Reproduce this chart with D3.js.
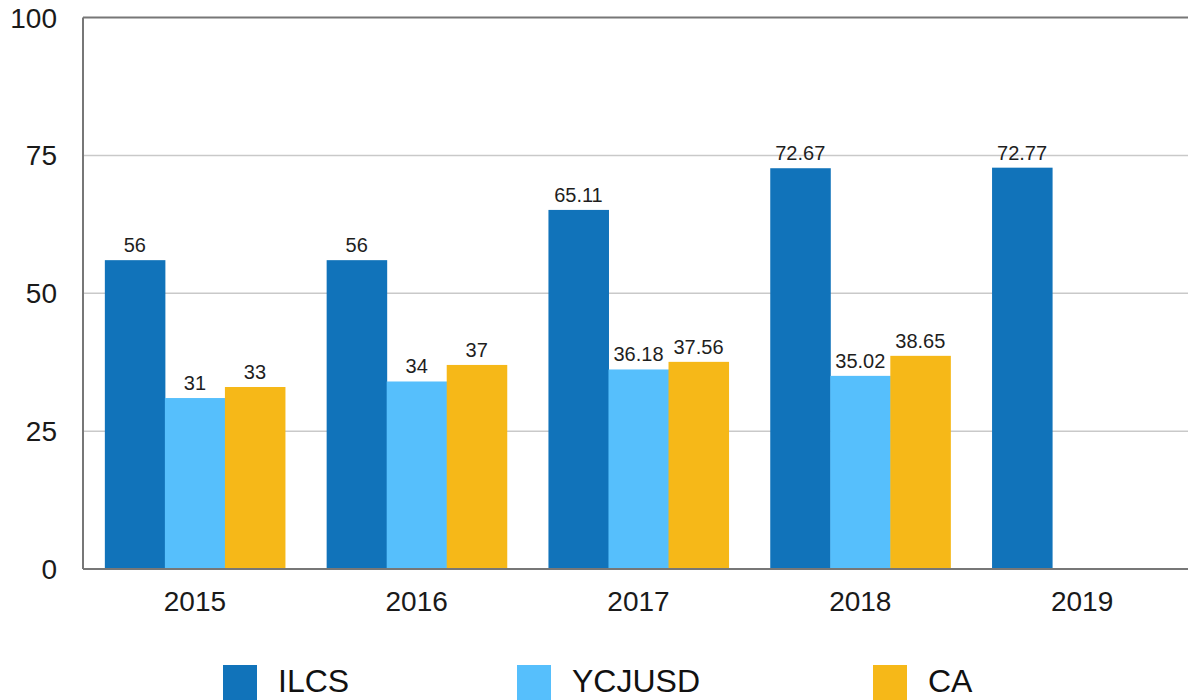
<html>

<head>
    <meta charset="utf-8">
    <style>
        body { margin: 0; background: #fff; }
        text { font-family: "Liberation Sans", Arial, sans-serif; }
    </style>
</head>

<body>
    <script src="https://d3js.org/d3.v7.min.js"></script>
    <div id="main"></div>

    <script>
        // chart values
        var years = ["2015", "2016", "2017", "2018", "2019"];
        var seriesNames = ["ILCS", "YCJUSD", "CA"];
        var ilcs = [56, 56, 65.11, 72.67, 72.77];
        var ycjusd = [31, 34, 36.18, 35.02, null];
        var ca = [33, 37, 37.56, 38.65, null];
        var yTicks = [0, 25, 50, 75, 100];

        var colors = { "ILCS": "#1173ba", "YCJUSD": "#56bffc", "CA": "#f6b818" };

        var W = 1188, H = 700;
        var plotLeft = 83, plotTop = 17.5, plotBottom = 569;

        var svg = d3.select("#main")
            .append("svg")
            .attr("width", W)
            .attr("height", H);

        // build rows for the grouped bars
        var rows = years.map(function (yr, i) {
            return { year: yr, values: [ilcs[i], ycjusd[i], ca[i]] };
        });

        var x0 = d3.scaleBand()
            .domain(years)
            .range([plotLeft + 1, 1193])
            .paddingInner(0.188)
            .paddingOuter(0.094);

        var x1 = d3.scaleBand()
            .domain(seriesNames)
            .range([0, x0.bandwidth()]);

        var y = d3.scaleLinear()
            .domain([0, 100])
            .range([plotBottom, plotTop]);

        // gridlines
        svg.append("g")
            .selectAll("line")
            .data(yTicks.filter(function (d) { return d > 0 && d < 100; }))
            .enter()
            .append("line")
            .attr("x1", plotLeft)
            .attr("x2", W)
            .attr("y1", function (d) { return y(d); })
            .attr("y2", function (d) { return y(d); })
            .attr("stroke", "#c9c9c9")
            .attr("stroke-width", 1.5);

        // top border line
        svg.append("line")
            .attr("x1", plotLeft).attr("x2", W)
            .attr("y1", y(100)).attr("y2", y(100))
            .attr("stroke", "#777").attr("stroke-width", 2);

        // y tick labels
        svg.append("g")
            .selectAll("text")
            .data(yTicks)
            .enter()
            .append("text")
            .attr("x", 57)
            .attr("y", function (d) { return y(d) + 10; })
            .attr("text-anchor", "end")
            .style("font-size", "28px")
            .style("fill", "#1a1a1a")
            .text(function (d) { return d; });

        // bars
        var groups = svg.append("g")
            .selectAll("g")
            .data(rows)
            .enter()
            .append("g")
            .attr("transform", function (d) { return "translate(" + x0(d.year) + ",0)"; });

        var cells = groups.selectAll("g")
            .data(function (d) {
                return seriesNames.map(function (s, j) { return { key: s, value: d.values[j] }; })
                    .filter(function (c) { return c.value != null; });
            })
            .enter()
            .append("g");

        cells.append("rect")
            .attr("x", function (d) { return x1(d.key); })
            .attr("y", function (d) { return y(d.value); })
            .attr("width", x1.bandwidth() + 0.5)
            .attr("height", function (d) { return plotBottom - y(d.value); })
            .style("fill", function (d) { return colors[d.key]; });

        cells.append("text")
            .attr("x", function (d) { return x1(d.key) + x1.bandwidth() / 2; })
            .attr("y", function (d) { return y(d.value) - 8; })
            .attr("text-anchor", "middle")
            .style("font-size", "20px")
            .style("fill", "#1e1e1e")
            .text(function (d) { return d.value; });

        // axes lines
        svg.append("line")
            .attr("x1", plotLeft).attr("x2", plotLeft)
            .attr("y1", y(100)).attr("y2", plotBottom)
            .attr("stroke", "#777").attr("stroke-width", 2);
        svg.append("line")
            .attr("x1", plotLeft).attr("x2", W)
            .attr("y1", plotBottom).attr("y2", plotBottom)
            .attr("stroke", "#777").attr("stroke-width", 2);

        // x labels
        svg.append("g")
            .selectAll("text")
            .data(years)
            .enter()
            .append("text")
            .attr("x", function (d) { return x0(d) + x0.bandwidth() / 2; })
            .attr("y", 611)
            .attr("text-anchor", "middle")
            .style("font-size", "28px")
            .style("fill", "#1a1a1a")
            .text(function (d) { return d; });

        // legend
        var legendX = [223, 517, 873];
        var legend = svg.append("g")
            .selectAll("g")
            .data(seriesNames)
            .enter()
            .append("g")
            .attr("transform", function (d, i) { return "translate(" + legendX[i] + ",665)"; });

        legend.append("rect")
            .attr("width", 34)
            .attr("height", 35)
            .style("fill", function (d) { return colors[d]; });

        legend.append("text")
            .attr("x", 55)
            .attr("y", 27)
            .style("font-size", "32px")
            .style("fill", "#111")
            .text(function (d) { return d; });
    </script>
</body>

</html>
